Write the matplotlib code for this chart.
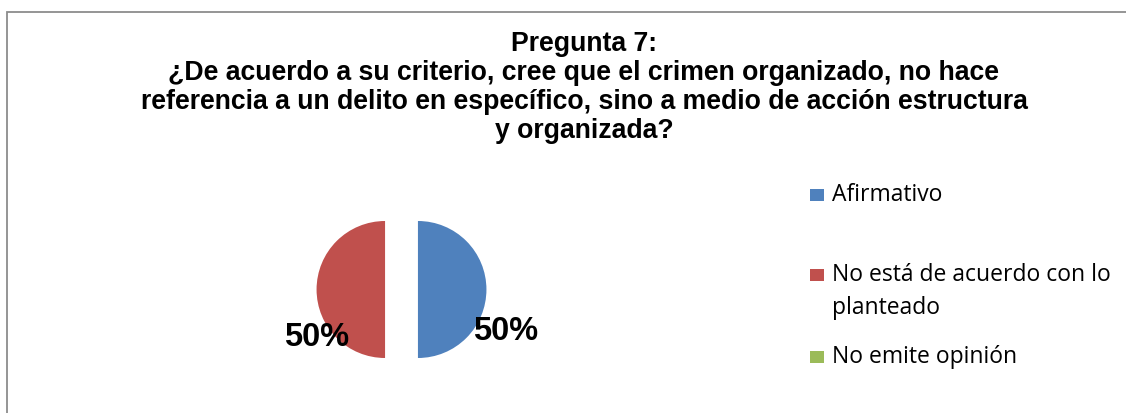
import matplotlib
matplotlib.use("Agg")
import matplotlib.pyplot as plt
from matplotlib.patches import Rectangle

# ---- data ----
categories = ["Afirmativo", "No está de acuerdo con lo\nplanteado", "No emite opinión"]
values = [50, 50, 0]
colors = ["#4F81BD", "#C0504D", "#9BBB59"]
title = ("Pregunta 7:\n¿De acuerdo a su criterio, cree que el crimen organizado, no hace\n"
         "referencia a un delito en específico, sino a medio de acción estructura\n"
         "y organizada?")

W, H = 1126, 413
fig = plt.figure(figsize=(W / 100, H / 100), dpi=100)
fig.patch.set_facecolor("white")

def fx(px):
    return px / W

def fy(py):
    return 1 - py / H

# border
fig.patches.append(Rectangle((fx(6.5), -0.1), 2, fy(12) + 0.1, transform=fig.transFigure,
                             fill=False, edgecolor="#8c8c8c", linewidth=1.3, clip_on=False))

# title (va=baseline aligns the last line)
fig.text(fx(584), fy(137.5), title, ha="center", va="baseline", fontsize=19.2,
         fontweight="bold", family="Liberation Sans", linespacing=1.14, color="black")

# pie axes (scale: 68.5 px per data unit, centre at 401.5, 289.5)
R = 68.5
cx, cy = 401.5, 289.5
x0, x1, y0, y1 = 250, 554, 209, 369
ax = fig.add_axes([fx(x0), fy(y1), (x1 - x0) / W, (y1 - y0) / H])
ax.axis("off")

wedges, texts, autotexts = ax.pie(values, colors=colors, startangle=90, counterclock=False,
                                  explode=[0.24, 0.24, 0.24], radius=1,
                                  autopct=lambda p: f"{p:.0f}%" if p > 0 else "",
                                  textprops=dict(fontsize=23.5, fontweight="bold",
                                                 family="Liberation Sans", color="black"),
                                  wedgeprops=dict(linewidth=0))
ax.set_xlim(-(cx - x0) / R, (x1 - cx) / R)
ax.set_ylim(-(y1 - cy) / R, (cy - y0) / R)
ax.set_aspect("auto")
label_pos = [((506 - cx) / R, -(331 - cy) / R), ((317 - cx) / R, -(337 - cy) / R), (0, 0)]
for t, pos in zip(autotexts, label_pos):
    t.set_position(pos)
    t.set_ha("center")
    t.set_va("center")
    t.set_clip_on(False)

# legend (manual, Excel-like spacing)
leg_base = [200.7, 280.7, 362.7]   # first-line baselines, px from top
pitch = 33.3
for cat, col, lb in zip(categories, colors, leg_base):
    nlines = cat.count("\n") + 1
    fig.patches.append(Rectangle((fx(810), fy(lb)), 14 / W, 12 / H, transform=fig.transFigure,
                                 facecolor=col, edgecolor="none"))
    fig.text(fx(832), fy(lb + pitch * (nlines - 1)), cat, ha="left", va="baseline",
             fontsize=16.5, family="Open Sans", linespacing=1.52, color="black")

fig.savefig("out.png", dpi=100, facecolor="white")
